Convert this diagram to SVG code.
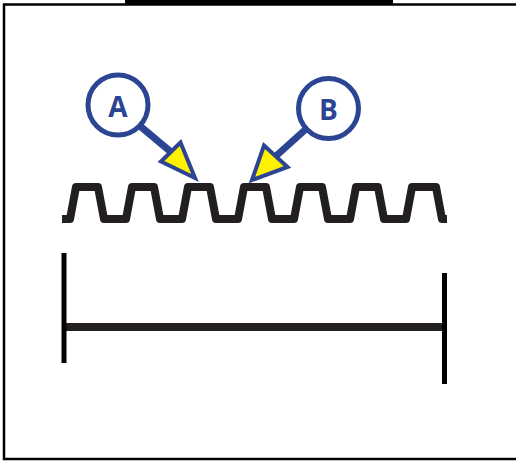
<svg xmlns="http://www.w3.org/2000/svg" width="516" height="461" viewBox="0 0 516 461">
<style>
.frame{fill:none;stroke:#000;stroke-width:2.5}
.wave{fill:none;stroke:#231f20;stroke-width:8;stroke-linejoin:round}
.bubble{fill:#fff;stroke:#2b4593;stroke-width:5}
.lbl{font-family:"Open Sans","Liberation Sans",sans-serif;font-weight:bold;font-size:28px;fill:#2b4593;text-anchor:middle}
.shaft{stroke:#2b4593;stroke-width:7;fill:none}
.head{fill:#fff200;stroke:#2b4593;stroke-width:4;stroke-linejoin:miter}
.bar{stroke:#231f20;stroke-width:8}
.tick{stroke:#000;stroke-width:5}
</style>
<rect x="0" y="0" width="516" height="461" fill="#fff"/>
<rect x="125" y="0" width="268" height="4" fill="#000"/>
<rect class="frame" x="4" y="4.5" width="530" height="454.5"/>
<g id="wave">
<path class="wave" d="M62,219 H70 L76,187 H98 L104,219 H126 L132,187 H154 L160,219 H182 L188,187 H210 L216,219 H238 L244,187 H266 L272,219 H294 L300,187 H322 L328,219 H350 L356,187 H378 L384,219 H406 L412,187 H436 L442,219 H447"/>
</g>
<g id="scale">
<line class="bar" x1="62" y1="327" x2="447" y2="327"/>
<line class="tick" x1="64" y1="253" x2="64" y2="363"/>
<line class="tick" x1="444.5" y1="273" x2="444.5" y2="384"/>
</g>
<g id="connectors">
<line class="shaft" x1="140" y1="126" x2="171" y2="152"/>
<polygon class="head" points="180.5,142.5 161,161.5 195,178"/>
<line class="shaft" x1="306" y1="129" x2="276" y2="156"/>
<polygon class="head" points="264,145.5 287.5,167 252,180"/>
</g>
<g id="nodeA">
<circle class="bubble" cx="118" cy="105" r="30"/>
<text class="lbl" x="118" y="116.5">A</text>
</g>
<g id="nodeB">
<circle class="bubble" cx="328.5" cy="108.5" r="30"/>
<text class="lbl" x="328.5" y="120">B</text>
</g>
</svg>
